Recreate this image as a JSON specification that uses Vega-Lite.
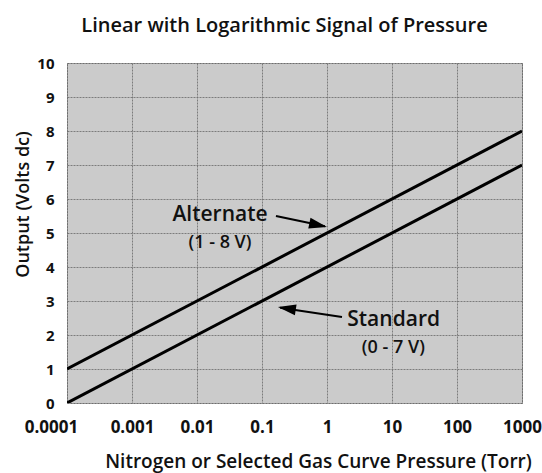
{
  "$schema": "https://vega.github.io/schema/vega-lite/v6.json",
  "autosize": "none",
  "padding": {"left": 67, "top": 63, "right": 20, "bottom": 70},
  "width": 455,
  "height": 340,
  "background": "white",
  "title": {
    "text": "Linear with Logarithmic Signal of Pressure",
    "font": "Open Sans",
    "fontSize": 20,
    "fontWeight": 600,
    "color": "#111111",
    "anchor": "middle",
    "frame": "group",
    "baseline": "alphabetic",
    "offset": 4,
    "dx": -10
  },
  "config": {
    "view": {"fill": "#cbcbcb", "stroke": "#6e6e6e", "strokeDash": [2, 1], "strokeWidth": 1},
    "font": "Open Sans"
  },
  "datasets": {
    "lines": [
      {"P": 0.0001, "V": 1, "series": "Alternate"},
      {"P": 1000, "V": 8, "series": "Alternate"},
      {"P": 0.0001, "V": 0, "series": "Standard"},
      {"P": 1000, "V": 7, "series": "Standard"}
    ],
    "arrows": [
      {"P": 0.164, "V": 5.5, "P2": 0.93, "V2": 5.2},
      {"P": 1.7, "V": 2.53, "P2": 0.19, "V2": 2.8}
    ],
    "heads": [
      {"P": 1.0, "V": 5.18, "ang": 12},
      {"P": 0.176, "V": 2.82, "ang": 189}
    ],
    "labels": [
      {"P": 0.0226, "V": 5.34, "t": "Alternate"},
      {"P": 10.6, "V": 2.26, "t": "Standard"}
    ],
    "sublabels": [
      {"P": 0.0226, "V": 4.57, "t": "(1 - 8 V)"},
      {"P": 10.5, "V": 1.47, "t": "(0 - 7 V)"}
    ]
  },
  "encoding": {
    "x": {
      "field": "P", "type": "quantitative",
      "scale": {"type": "log", "domain": [0.0001, 1000], "nice": false},
      "axis": {
        "title": "Nitrogen or Selected Gas Curve Pressure (Torr)",
        "titleFont": "Open Sans", "titleFontSize": 19, "titleFontWeight": 600, "titleColor": "#111111",
        "titleX": 251, "titleY": 64, "titleBaseline": "alphabetic", "titleAnchor": "middle", "titleAlign": "center",
        "values": [0.0001, 0.001, 0.01, 0.1, 1, 10, 100, 1000],
        "labelExpr": "format(datum.value, '~g')",
        "labelFont": "Open Sans", "labelFontSize": 17, "labelFontWeight": "bold", "labelColor": "#111111",
        "labelBaseline": "alphabetic", "labelPadding": 29,
        "labelOffset": {"condition": {"test": "datum.value < 0.0005", "value": -16}, "value": 0},
        "labelOverlap": false, "labelFlush": false, "labelBound": false,
        "ticks": false, "tickSize": 0, "domain": false,
        "grid": true, "gridColor": "#6e6e6e", "gridDash": [2, 1], "gridWidth": 1, "gridOpacity": 0.85
      }
    },
    "y": {
      "field": "V", "type": "quantitative",
      "scale": {"domain": [0, 10], "nice": false},
      "axis": {
        "title": "Output (Volts dc)",
        "titleFont": "Open Sans", "titleFontSize": 18, "titleFontWeight": 600, "titleColor": "#111111",
        "titleAngle": -90, "titleX": -39, "titleY": 141, "titleBaseline": "alphabetic", "titleAlign": "center",
        "values": [0, 1, 2, 3, 4, 5, 6, 7, 8, 9, 10],
        "tickCount": 11,
        "labelFont": "Open Sans", "labelFontSize": 15, "labelFontWeight": "bold", "labelColor": "#111111",
        "labelPadding": 13, "labelOverlap": false, "labelFlush": false, "labelBound": false,
        "ticks": false, "tickSize": 0, "domain": false,
        "grid": true, "gridColor": "#6e6e6e", "gridDash": [2, 1], "gridWidth": 1, "gridOpacity": 0.85
      }
    }
  },
  "layer": [
    {
      "data": {"name": "lines"},
      "mark": {"type": "line", "color": "black", "strokeWidth": 3, "clip": true},
      "encoding": {
        "detail": {"field": "series", "type": "nominal"}
      }
    },
    {
      "data": {"name": "arrows"},
      "mark": {"type": "rule", "color": "black", "strokeWidth": 2},
      "encoding": {
        "x2": {"field": "P2"},
        "y2": {"field": "V2"}
      }
    },
    {
      "data": {"name": "heads"},
      "mark": {"type": "point", "shape": "M0,0L-2,-0.6L-2,0.6Z", "filled": true, "color": "black", "opacity": 1, "size": 324, "strokeWidth": 0},
      "encoding": {
        "angle": {"field": "ang", "type": "quantitative", "scale": null}
      }
    },
    {
      "data": {"name": "labels"},
      "mark": {"type": "text", "font": "Open Sans", "fontSize": 21, "fontWeight": 600, "color": "#111111", "align": "center", "baseline": "alphabetic"},
      "encoding": {
        "text": {"field": "t"}
      }
    },
    {
      "data": {"name": "sublabels"},
      "mark": {"type": "text", "font": "Open Sans", "fontSize": 18, "fontWeight": 600, "color": "#111111", "align": "center", "baseline": "alphabetic"},
      "encoding": {
        "text": {"field": "t"}
      }
    }
  ]
}
